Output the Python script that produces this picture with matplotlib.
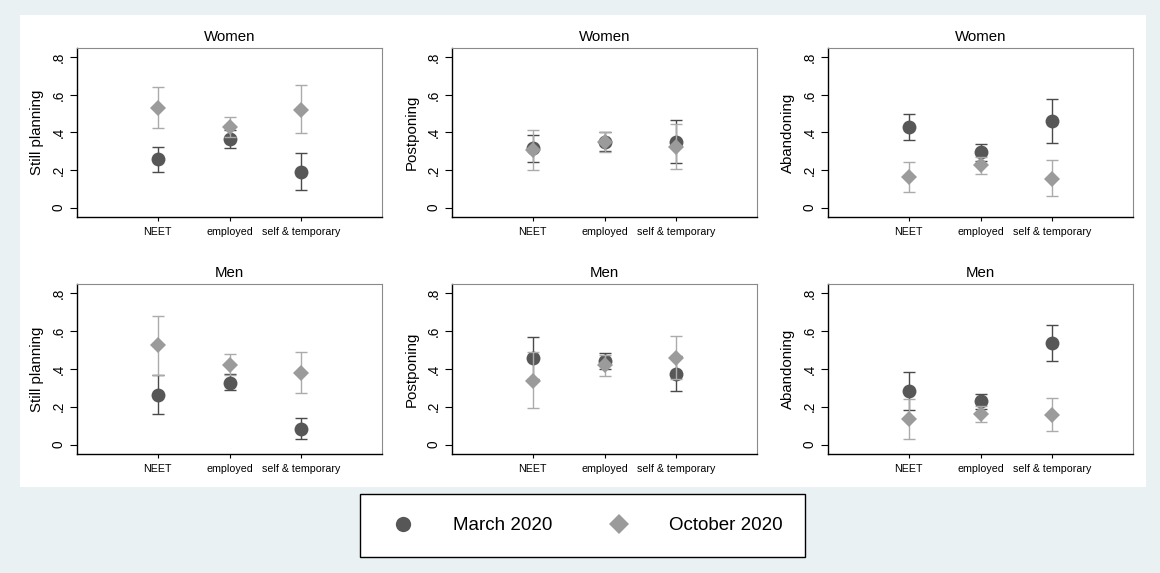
import numpy as np
import matplotlib
matplotlib.use("Agg")
import matplotlib.pyplot as plt
from matplotlib.lines import Line2D
from matplotlib.patches import Rectangle

plt.rcParams['font.family'] = ['Liberation Sans', 'DejaVu Sans']

cats = ["NEET", "employed", "self & temporary"]
ylabels = ["Still planning", "Postponing", "Abandoning"]
genders = ["Women", "Men"]
yticks = [0, 0.2, 0.4, 0.6, 0.8]
yticklabels = ["0", ".2", ".4", ".6", ".8"]

# Women: point estimate, lower, upper
still_w_mar = [0.258, 0.366, 0.192]; still_w_mar_lo = [0.187, 0.318, 0.096]; still_w_mar_hi = [0.322, 0.415, 0.290]
still_w_oct = [0.530, 0.430, 0.521]; still_w_oct_lo = [0.423, 0.376, 0.396]; still_w_oct_hi = [0.644, 0.484, 0.651]
post_w_mar = [0.316, 0.350, 0.350]; post_w_mar_lo = [0.245, 0.300, 0.236]; post_w_mar_hi = [0.388, 0.400, 0.469]
post_w_oct = [0.308, 0.347, 0.322]; post_w_oct_lo = [0.201, 0.295, 0.204]; post_w_oct_hi = [0.414, 0.402, 0.446]
aband_w_mar = [0.430, 0.295, 0.462]; aband_w_mar_lo = [0.359, 0.250, 0.343]; aband_w_mar_hi = [0.500, 0.340, 0.578]
aband_w_oct = [0.165, 0.226, 0.151]; aband_w_oct_lo = [0.085, 0.180, 0.062]; aband_w_oct_hi = [0.242, 0.270, 0.251]

# Men
still_m_mar = [0.264, 0.328, 0.085]; still_m_mar_lo = [0.160, 0.287, 0.030]; still_m_mar_hi = [0.367, 0.371, 0.140]
still_m_oct = [0.525, 0.422, 0.380]; still_m_oct_lo = [0.367, 0.368, 0.275]; still_m_oct_hi = [0.681, 0.481, 0.490]
post_m_mar = [0.458, 0.443, 0.376]; post_m_mar_lo = [0.347, 0.400, 0.284]; post_m_mar_hi = [0.569, 0.486, 0.468]
post_m_oct = [0.339, 0.419, 0.459]; post_m_oct_lo = [0.195, 0.362, 0.348]; post_m_oct_hi = [0.488, 0.475, 0.576]
aband_m_mar = [0.282, 0.229, 0.539]; aband_m_mar_lo = [0.183, 0.190, 0.443]; aband_m_mar_hi = [0.383, 0.268, 0.635]
aband_m_oct = [0.135, 0.160, 0.156]; aband_m_oct_lo = [0.032, 0.117, 0.073]; aband_m_oct_hi = [0.241, 0.203, 0.247]

panels = [
    [(still_w_mar, still_w_mar_lo, still_w_mar_hi, still_w_oct, still_w_oct_lo, still_w_oct_hi),
     (post_w_mar, post_w_mar_lo, post_w_mar_hi, post_w_oct, post_w_oct_lo, post_w_oct_hi),
     (aband_w_mar, aband_w_mar_lo, aband_w_mar_hi, aband_w_oct, aband_w_oct_lo, aband_w_oct_hi)],
    [(still_m_mar, still_m_mar_lo, still_m_mar_hi, still_m_oct, still_m_oct_lo, still_m_oct_hi),
     (post_m_mar, post_m_mar_lo, post_m_mar_hi, post_m_oct, post_m_oct_lo, post_m_oct_hi),
     (aband_m_mar, aband_m_mar_lo, aband_m_mar_hi, aband_m_oct, aband_m_oct_lo, aband_m_oct_hi)],
]

dark = '#575757'; dark_bar = '#4a4a4a'
light = '#9b9b9b'; light_bar = '#ababab'
W, H = 1160, 573

fig = plt.figure(figsize=(W/100, H/100), dpi=100, facecolor='#eaf1f3')
# white plot region behind the panels
fig.patches.append(Rectangle((20/W, 1-487/H), 1126/W, 472/H, transform=fig.transFigure,
                             facecolor='white', edgecolor='none', zorder=-10))

col_left = [77, 452, 828]
row_box = [(48, 217), (284, 454)]
x = np.arange(1, 4)

for r in range(2):
    for c in range(3):
        top, bot = row_box[r]
        ax = fig.add_axes([col_left[c]/W, 1-bot/H, 305/W, (bot-top)/H])
        ax.set_facecolor('none')
        mar, mlo, mhi, octo, olo, ohi = [np.array(a) for a in panels[r][c]]
        ax.errorbar(x, mar, yerr=[mar-mlo, mhi-mar], fmt='none', ecolor=dark_bar, elinewidth=1,
                    capsize=4, capthick=1, zorder=2)
        ax.plot(x, mar, 'o', color=dark, markersize=10, markeredgewidth=0, zorder=3)
        ax.errorbar(x, octo, yerr=[octo-olo, ohi-octo], fmt='none', ecolor=light_bar, elinewidth=1,
                    capsize=4, capthick=1, zorder=4)
        ax.plot(x, octo, 'D', color=light, markersize=8.5, markeredgewidth=0, zorder=5)
        ax.set_xlim(-0.12, 4.12)
        ax.set_ylim(-0.05, 0.85)
        ax.set_xticks(x)
        ax.set_xticklabels(cats, fontsize=7.7)
        ax.set_yticks(yticks)
        ax.set_yticklabels(yticklabels, fontsize=9.8, rotation=90, va='center')
        ax.tick_params(axis='y', length=5, width=0.8, pad=3)
        ax.tick_params(axis='x', length=3, width=0.8, pad=4)
        ax.set_ylabel(ylabels[c], fontsize=10.8, labelpad=6)
        ax.set_title(genders[r], fontsize=10.8, pad=5)
        for s in ['top', 'right']:
            ax.spines[s].set_color('#8a8a8a')
            ax.spines[s].set_linewidth(0.8)
        for s in ['left', 'bottom']:
            ax.spines[s].set_color('black')
            ax.spines[s].set_linewidth(1)

handles = [Line2D([], [], marker='o', color=dark, linestyle='none', markersize=11, markeredgewidth=0),
           Line2D([], [], marker='D', color=light, linestyle='none', markersize=10, markeredgewidth=0)]
leg = fig.legend(handles, ["March 2020", "October 2020"], loc='center',
                 bbox_to_anchor=(582.5/W, 1-525.5/H), ncol=2, fontsize=13.5, frameon=True,
                 fancybox=False, edgecolor='black', facecolor='white', framealpha=1,
                 borderpad=1.2, handlelength=2.2, handletextpad=1.55, columnspacing=2.5)
leg.get_frame().set_linewidth(1)

fig.savefig("out.png", dpi=100, facecolor=fig.get_facecolor())
